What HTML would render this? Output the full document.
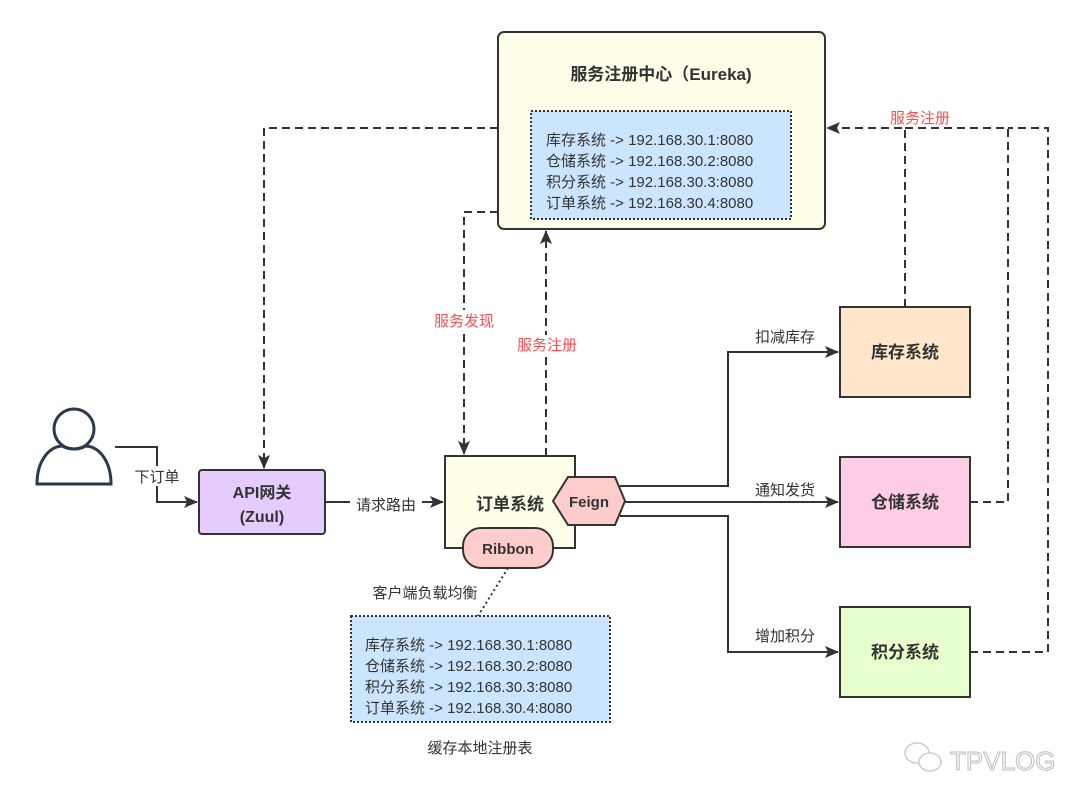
<!DOCTYPE html>
<html><head><meta charset="utf-8"><style>
html,body{margin:0;padding:0;background:#fff;}
svg{display:block;font-family:"Liberation Sans","Noto Sans CJK SC",sans-serif;}
</style></head><body>
<svg width="1080" height="804" viewBox="0 0 1080 804" xmlns="http://www.w3.org/2000/svg">
<defs>
<marker id="a" markerWidth="14" markerHeight="14" refX="13" refY="7" orient="auto" markerUnits="userSpaceOnUse">
<path d="M0,1 L14,7 L0,13 L3,7 Z" fill="#333"/></marker>
</defs>
<g fill="none" stroke="#333" stroke-width="2" stroke-dasharray="8,5">
<path d="M498,128 H264 V468" marker-end="url(#a)"/>
<path d="M498,212 H464 V454" marker-end="url(#a)"/>
<path d="M546,456 V231" marker-end="url(#a)"/>
<path d="M905,307 V128 H827" marker-end="url(#a)"/>
<path d="M970,502 H1008 V128 H905"/>
<path d="M970,652 H1048 V128 H1008"/>
</g>
<g fill="none" stroke="#333" stroke-width="2">
<path d="M115,447 H157 V502 H197" marker-end="url(#a)"/>
<path d="M325,502 H443" marker-end="url(#a)"/>
<path d="M620,486 H728 V352 H838" marker-end="url(#a)"/>
<path d="M625,502 H838" marker-end="url(#a)"/>
<path d="M620,516 H728 V652 H838" marker-end="url(#a)"/>
<path d="M508,568 L478,616" stroke-dasharray="2,3"/>
</g>
<rect x="498" y="32" width="327" height="197" rx="6" fill="#fefee9" stroke="#333" stroke-width="2"/>
<text x="661" y="80" text-anchor="middle" font-size="17" font-weight="bold" fill="#333">服务注册中心（Eureka)</text>
<rect x="531" y="111" width="260" height="108" fill="#cce5ff" stroke="#333" stroke-width="2" stroke-dasharray="2,2"/>
<g font-size="15" fill="#333">
<text x="546" y="145">库存系统 -&gt; 192.168.30.1:8080</text>
<text x="546" y="166">仓储系统 -&gt; 192.168.30.2:8080</text>
<text x="546" y="187">积分系统 -&gt; 192.168.30.3:8080</text>
<text x="546" y="208">订单系统 -&gt; 192.168.30.4:8080</text>
</g>
<rect x="351" y="616" width="259" height="106" fill="#cce5ff" stroke="#333" stroke-width="2" stroke-dasharray="2,2"/>
<g font-size="15" fill="#333">
<text x="365" y="650">库存系统 -&gt; 192.168.30.1:8080</text>
<text x="365" y="671">仓储系统 -&gt; 192.168.30.2:8080</text>
<text x="365" y="692">积分系统 -&gt; 192.168.30.3:8080</text>
<text x="365" y="713">订单系统 -&gt; 192.168.30.4:8080</text>
</g>
<rect x="445" y="456" width="130" height="92" fill="#fefee9" stroke="#333" stroke-width="2"/>
<text x="510" y="510" text-anchor="middle" font-size="17" font-weight="bold" fill="#333">订单系统</text>
<path d="M568,477 H615 L625,501 L615,525 H568 L553,501 Z" fill="#ffcccc" stroke="#333" stroke-width="2"/>
<text x="589" y="507" text-anchor="middle" font-size="15" font-weight="bold" fill="#333">Feign</text>
<rect x="463" y="528" width="90" height="40" rx="18" fill="#ffcccc" stroke="#333" stroke-width="2"/>
<text x="508" y="554" text-anchor="middle" font-size="15" font-weight="bold" fill="#333">Ribbon</text>
<rect x="199" y="470" width="126" height="64" rx="3" fill="#e5ccff" stroke="#333" stroke-width="2"/>
<text x="262" y="498" text-anchor="middle" font-size="16" font-weight="bold" fill="#333">API网关</text>
<text x="262" y="522" text-anchor="middle" font-size="16" font-weight="bold" fill="#333">(Zuul)</text>
<rect x="840" y="307" width="130" height="90" fill="#ffe6cc" stroke="#333" stroke-width="2"/>
<text x="905" y="358" text-anchor="middle" font-size="17" font-weight="bold" fill="#333">库存系统</text>
<rect x="840" y="457" width="130" height="90" fill="#ffcce6" stroke="#333" stroke-width="2"/>
<text x="905" y="508" text-anchor="middle" font-size="17" font-weight="bold" fill="#333">仓储系统</text>
<rect x="840" y="607" width="130" height="90" fill="#e6ffcc" stroke="#333" stroke-width="2"/>
<text x="905" y="658" text-anchor="middle" font-size="17" font-weight="bold" fill="#333">积分系统</text>
<g fill="none" stroke="#2b3a4a" stroke-width="3">
<circle cx="74" cy="429" r="20"/>
<path d="M37,484 C37,462 48,447 62,446 Q74,452 86,446 C100,447 111,462 111,484 Z"/>
</g>
<g font-size="15" fill="#333">
<rect x="130" y="466" width="54" height="20" fill="#fff"/>
<text x="157" y="482" text-anchor="middle">下订单</text>
<rect x="350" y="494" width="72" height="20" fill="#fff"/>
<text x="386" y="510" text-anchor="middle">请求路由</text>
<text x="785" y="342" text-anchor="middle">扣减库存</text>
<text x="785" y="495" text-anchor="middle">通知发货</text>
<text x="785" y="641" text-anchor="middle">增加积分</text>
<text x="425" y="598" text-anchor="middle">客户端负载均衡</text>
<text x="480" y="753" text-anchor="middle">缓存本地注册表</text>
</g>
<g font-size="15" fill="#ff4d4d">
<rect x="428" y="310" width="72" height="20" fill="#fff"/>
<text x="464" y="326" text-anchor="middle">服务发现</text>
<rect x="511" y="335" width="72" height="20" fill="#fff"/>
<text x="547" y="350" text-anchor="middle">服务注册</text>
<text x="920" y="123" text-anchor="middle">服务注册</text>
</g>
<g fill="none" stroke="#ccc" stroke-width="1.5">
<ellipse cx="917" cy="753" rx="12" ry="10"/>
<ellipse cx="930" cy="762" rx="11" ry="9" fill="#fff"/>
</g>
<text x="950" y="770" font-size="26" fill="#fff" stroke="#bbb" stroke-width="1">TPVLOG</text>
</svg>
</body></html>
